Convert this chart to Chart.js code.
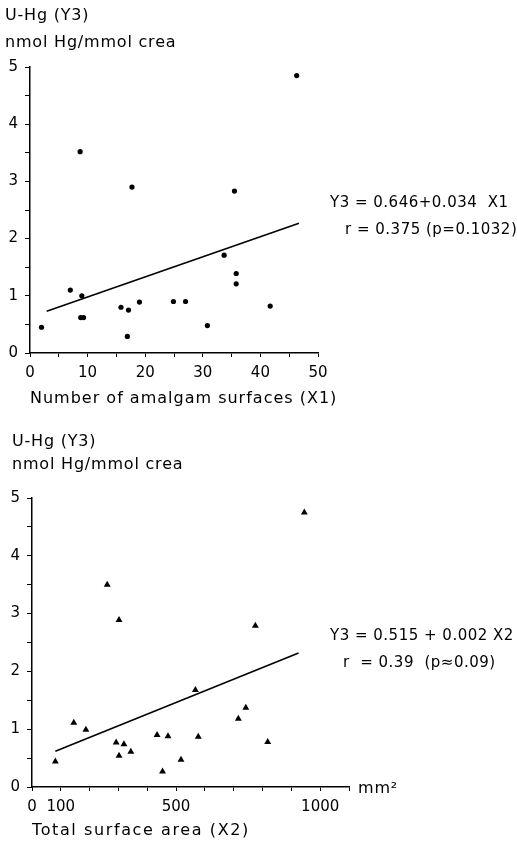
<!DOCTYPE html>
<html>
<head>
<meta charset="utf-8">
<script src="https://cdn.jsdelivr.net/npm/chart.js@4.4.1/dist/chart.umd.min.js"></script>
<style>
  body { margin: 0; background: #fff; width: 517px; height: 842px; position: relative; overflow: hidden; }
  .box { position: absolute; left: 0; width: 517px; }
  .txt { position: absolute; white-space: pre; font-family: "DejaVu Sans", sans-serif; font-size: 16px; letter-spacing: 0.8px; line-height: 16px; color: #000; }
  .eq { font-size: 15px; letter-spacing: 0.5px; }
</style>
</head>
<body>
<div class="box" style="top:0;height:390px"><canvas id="amalgamChart"></canvas></div>
<div class="box" style="top:420px;height:422px"><canvas id="areaChart"></canvas></div>

<div class="txt" style="left:5px;top:7px">U-Hg (Y3)</div>
<div class="txt" style="left:5px;top:34px">nmol Hg/mmol crea</div>
<div class="txt" style="left:30px;top:390px;letter-spacing:1px">Number of amalgam surfaces (X1)</div>
<div class="txt eq" style="left:330px;top:194px">Y3 = 0.646+0.034  X1</div>
<div class="txt eq" style="left:345px;top:221px">r = 0.375 (p=0.1032)</div>

<div class="txt" style="left:12px;top:433px">U-Hg (Y3)</div>
<div class="txt" style="left:12px;top:456px">nmol Hg/mmol crea</div>
<div class="txt" style="left:358px;top:780px">mm²</div>
<div class="txt" style="left:32px;top:822px;letter-spacing:1.6px">Total surface area (X2)</div>
<div class="txt eq" style="left:330px;top:627px">Y3 = 0.515 + 0.002 X2</div>
<div class="txt eq" style="left:343px;top:654px">r  = 0.39  (p≈0.09)</div>

<script>
// top panel: U-Hg vs number of amalgam surfaces
const surfaces = [2, 7, 8.7, 8.8, 9, 9.3, 15.8, 16.9, 17.1, 17.7, 19, 24.9, 27, 30.8, 33.7, 35.5, 35.8, 35.8, 41.7, 46.3];
const uHg1 = [0.45, 1.1, 3.52, 0.62, 1.0, 0.62, 0.8, 0.29, 0.75, 2.9, 0.89, 0.9, 0.9, 0.48, 1.71, 2.83, 1.39, 1.21, 0.82, 4.85];
const fit1X = [2.9, 46.7];
const fit1Y = [0.73, 2.27];
const x1TickLabels = [0, 10, 20, 30, 40, 50];

// bottom panel: U-Hg vs total surface area (mm2)
const area = [81, 145, 187, 261, 292, 302, 302, 319, 343, 434, 453, 472, 517, 567, 577, 716, 742, 775, 818, 945];
const uHg2 = [0.44, 1.11, 0.99, 3.5, 0.77, 0.54, 2.89, 0.74, 0.61, 0.9, 0.27, 0.88, 0.47, 1.68, 0.87, 1.18, 1.37, 2.79, 0.78, 4.75];
const fit2X = [81, 925];
const fit2Y = [0.62, 2.32];
const x2TickLabels = [0, 100, 500, 1000];

const yTickLabels = [0, 1, 2, 3, 4, 5];

const FONT = "'DejaVu Sans', sans-serif";

function toPoints(xs, ys) {
  return xs.map((x, i) => ({ x: x, y: ys[i] }));
}

function makeChart(canvas, opts) {
  return new Chart(canvas, {
    type: "scatter",
    data: {
      datasets: [
        {
          data: toPoints(opts.xs, opts.ys),
          pointStyle: opts.marker,
          pointRadius: opts.marker === "triangle" ? 4 : 2.6,
          backgroundColor: "#000",
          borderColor: "#000",
          borderWidth: 0,
        },
        {
          data: toPoints(opts.fitX, opts.fitY),
          showLine: true,
          borderColor: "#000",
          borderWidth: 1.6,
          pointRadius: 0,
        },
      ],
    },
    options: {
      responsive: true,
      maintainAspectRatio: false,
      animation: false,
      layout: { padding: opts.padding },
      plugins: { legend: { display: false }, tooltip: { enabled: false } },
      scales: {
        x: {
          type: "linear",
          min: opts.xMin,
          max: opts.xMax,
          afterFit: (s) => { s.height = 28; },
          border: { color: "#000", width: 1.5 },
          grid: { drawOnChartArea: false, color: "#000", tickLength: 4 },
          ticks: {
            stepSize: opts.xStep,
            autoSkip: false,
            maxRotation: 0,
            padding: 7,
            color: "#000",
            font: { family: FONT, size: 15 },
            callback: (v) => (opts.xLabels.includes(v) ? String(v) : ""),
          },
        },
        y: {
          min: 0,
          max: 5,
          afterFit: (s) => { s.width = opts.yWidth; },
          border: { color: "#000", width: 1.5 },
          grid: { drawOnChartArea: false, color: "#000", tickLength: 5 },
          ticks: {
            stepSize: 0.5,
            autoSkip: false,
            padding: 7,
            color: "#000",
            font: { family: FONT, size: 15 },
            callback: (v) => (yTickLabels.includes(v) ? String(v) : ""),
          },
        },
      },
    },
  });
}

makeChart(document.getElementById("amalgamChart"), {
  xs: surfaces, ys: uHg1, fitX: fit1X, fitY: fit1Y, marker: "circle",
  xMin: 0, xMax: 50, xStep: 5, xLabels: x1TickLabels, yWidth: 30,
  padding: { top: 67, right: 199, bottom: 9, left: 0 },
});

makeChart(document.getElementById("areaChart"), {
  xs: area, ys: uHg2, fitX: fit2X, fitY: fit2Y, marker: "triangle",
  xMin: 0, xMax: 1100, xStep: 100, xLabels: x2TickLabels, yWidth: 32,
  padding: { top: 78, right: 168, bottom: 27, left: 0 },
});
</script>
</body>
</html>
